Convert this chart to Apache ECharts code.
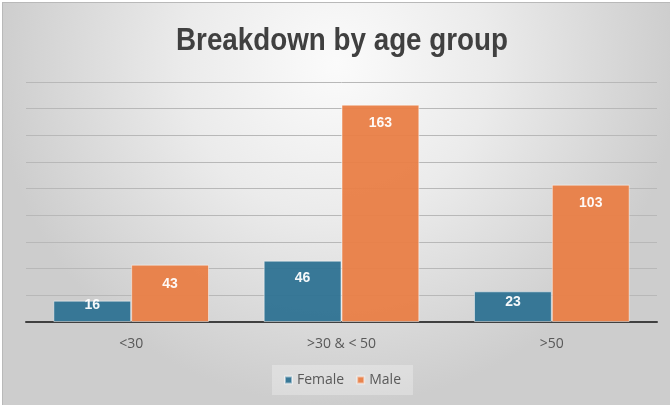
<!DOCTYPE html>
<html>
<head>
<meta charset="utf-8">
<script src="https://cdn.jsdelivr.net/npm/echarts@6/dist/echarts.min.js"></script>
<style>
  html, body { margin: 0; padding: 0; background: #ffffff; overflow: hidden; }
  #chart {
    position: absolute; left: 2px; top: 2px;
    width: 668px; height: 403px;
    box-sizing: border-box;
    border-top: 1px solid #b9b9b9;
    border-left: 1px solid #b9b9b9;
  }
</style>
</head>
<body>
<div id="chart"></div>
<script>
// Age groups and headcount by gender
const ageGroups = ['<30', '>30 & < 50', '>50'];
const femaleCounts = [16, 46, 23];
const maleCounts = [43, 163, 103];
const seriesNames = ['Female', 'Male'];
const chartTitle = 'Breakdown by age group';

// value-label distance from the bar top (short bars keep labels near the top edge)
const femaleLabelGap = [-3, 10, 4];
const maleLabelGap = [12, 11, 11];

const colors = { female: '#2E7292', male: '#E97E46' };

function barData(values, gaps) {
  return values.map((v, i) => ({ value: v, label: { distance: gaps[i] } }));
}

// narrow bold heading: condense a regular bold face horizontally to a fixed width
const titleFont = 'bold 32px "Liberation Sans", Arial, sans-serif';
const titleWidth = 332;
const measureCtx = document.createElement('canvas').getContext('2d');
measureCtx.font = titleFont;
const titleScale = titleWidth / measureCtx.measureText(chartTitle).width;

const labelStyle = {
  show: true,
  position: 'insideTop',
  color: '#ffffff',
  fontFamily: 'Liberation Sans, Arial, sans-serif',
  fontWeight: 'bold',
  fontSize: 14
};

const chart = echarts.init(document.getElementById('chart'), null, { renderer: 'canvas' });

chart.setOption({
  animation: false,
  backgroundColor: {
    type: 'radial', x: 0.5, y: 0.15, r: 0.85,
    colorStops: [
      { offset: 0, color: '#fbfbfb' },
      { offset: 0.45, color: '#ebebeb' },
      { offset: 1, color: '#cdcdcd' }
    ]
  },
  graphic: [{
    type: 'text',
    x: 339, y: 22,
    scaleX: titleScale,
    style: {
      text: chartTitle,
      align: 'center',
      verticalAlign: 'top',
      fill: '#404040',
      font: titleFont
    }
  }],
  legend: {
    data: seriesNames,
    left: 269,
    top: 362,
    padding: [8, 12, 8, 12],
    backgroundColor: 'rgba(255,255,255,0.28)',
    itemWidth: 7,
    itemHeight: 7,
    itemGap: 12,
    icon: 'rect',
    textStyle: { color: '#595959', fontSize: 14, fontFamily: 'Open Sans, Liberation Sans, sans-serif' }
  },
  grid: { left: 23, right: 13, top: 79, bottom: 83, containLabel: false },
  xAxis: {
    type: 'category',
    data: ageGroups,
    axisLine: { lineStyle: { color: '#404040', width: 2 } },
    axisTick: { show: false },
    axisLabel: { color: '#595959', fontSize: 14, margin: 15, fontFamily: 'Open Sans, Liberation Sans, sans-serif' }
  },
  yAxis: {
    type: 'value',
    min: 0, max: 180, interval: 20,
    axisLabel: { show: false },
    axisLine: { show: false },
    axisTick: { show: false },
    splitLine: { lineStyle: { color: '#b8b8b8', width: 1 } }
  },
  series: [
    {
      name: seriesNames[0], type: 'bar',
      data: barData(femaleCounts, femaleLabelGap),
      barGap: '0%', barCategoryGap: '26%',
      itemStyle: { color: colors.female, opacity: 0.95, borderColor: 'rgba(255,255,255,0.5)', borderWidth: 1 },
      label: labelStyle
    },
    {
      name: seriesNames[1], type: 'bar',
      data: barData(maleCounts, maleLabelGap),
      barGap: '0%', barCategoryGap: '26%',
      itemStyle: { color: colors.male, opacity: 0.95, borderColor: 'rgba(255,255,255,0.5)', borderWidth: 1 },
      label: labelStyle
    }
  ]
});
</script>
</body>
</html>
